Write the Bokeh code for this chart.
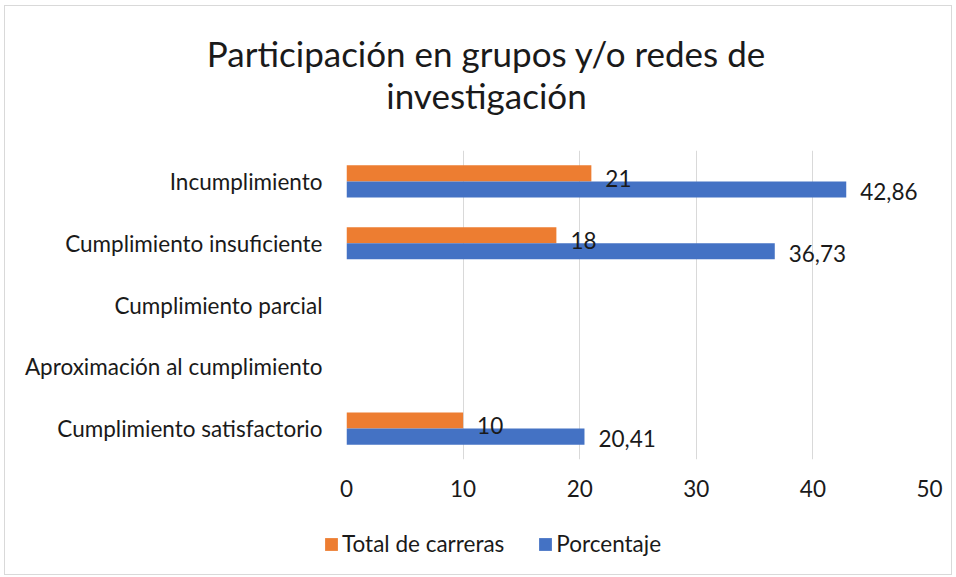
from bokeh.plotting import figure
from bokeh.layouts import column
from bokeh.models import (ColumnDataSource, FactorRange, Range1d, LabelSet, Label,
                          Legend, LegendItem)
from bokeh.transform import dodge
from bokeh.core.properties import value
from bokeh.embed import file_html
from bokeh.resources import INLINE

# ---- data ----
categories = ["Incumplimiento", "Cumplimiento insuficiente", "Cumplimiento parcial",
              "Aproximación al cumplimiento", "Cumplimiento satisfactorio"]
total_carreras = [21, 18, 0, 0, 10]
porcentaje = [42.86, 36.73, 0, 0, 20.41]
porcentaje_labels = ["42,86", "36,73", "", "", "20,41"]
x_ticks = [0, 10, 20, 30, 40, 50]
title_lines = ["Participación en grupos y/o redes de", "investigación"]
series_names = ["Total de carreras", "Porcentaje"]

ORANGE = "#ED7D31"
BLUE = "#4472C4"
FONT = "Lato"
TXT = "#1a1a1a"
FS = "22.5px"

W = 946
H_TITLE, H_MAIN, H_LEG = 144, 359, 65

src = ColumnDataSource(dict(
    cat=categories,
    total=total_carreras,
    pct=porcentaje,
    total_lbl=[str(v) if v else "" for v in total_carreras],
    pct_lbl=porcentaje_labels,
))


def blank_fig(height, y_range=None, x_range=None):
    f = figure(width=W, height=height, output_backend="svg", toolbar_location=None,
               x_range=x_range if x_range is not None else Range1d(0, 1),
               y_range=y_range if y_range is not None else Range1d(0, 1),
               x_axis_type=None, y_axis_type=None, min_border=0,
               frame_align=False)
    f.outline_line_color = None
    f.grid.visible = False
    f.background_fill_color = "white"
    f.border_fill_color = "white"
    return f


# ---- title strip ----
pt = blank_fig(H_TITLE)
for i, line in enumerate(title_lines):
    pt.add_layout(Label(x=481, y=98 - 42 * i, x_units="screen", y_units="screen",
                        text=line, text_font=FONT, text_font_size="35px",
                        text_color=TXT, text_align="center", text_baseline="middle"))

# ---- main chart ----
p = figure(width=W, height=H_MAIN, output_backend="svg", toolbar_location=None,
           y_range=FactorRange(factors=categories[::-1], range_padding=0),
           x_range=Range1d(0, 50),
           min_border_left=341, min_border_right=22, min_border_top=0,
           min_border_bottom=50, frame_align=False)
p.outline_line_color = None
p.background_fill_color = "white"
p.border_fill_color = "white"

bar_h = 0.26
r_tot = p.hbar(y=dodge("cat", bar_h / 2, range=p.y_range), right="total", left=0,
               height=bar_h, source=src, color=ORANGE, line_color=None)
r_pct = p.hbar(y=dodge("cat", -bar_h / 2, range=p.y_range), right="pct", left=0,
               height=bar_h, source=src, color=BLUE, line_color=None)

p.add_layout(LabelSet(x="total", y=dodge("cat", bar_h / 2 - 0.08, range=p.y_range),
                      text="total_lbl", source=src, x_offset=14,
                      text_font=value(FONT), text_font_size=FS,
                      text_color=TXT, text_baseline="middle"))
p.add_layout(LabelSet(x="pct", y=dodge("cat", -bar_h / 2 - 0.03, range=p.y_range),
                      text="pct_lbl", source=src, x_offset=14,
                      text_font=value(FONT), text_font_size=FS,
                      text_color=TXT, text_baseline="middle"))

p.xaxis.ticker = x_ticks
p.xaxis.axis_line_color = None
p.xaxis.major_tick_line_color = None
p.xaxis.minor_tick_line_color = None
p.xaxis.major_label_text_font = FONT
p.xaxis.major_label_text_font_size = FS
p.xaxis.major_label_text_color = TXT
p.xaxis.major_label_standoff = 14

p.yaxis.axis_line_color = None
p.yaxis.major_tick_line_color = None
p.yaxis.minor_tick_line_color = None
p.yaxis.major_label_text_font = FONT
p.yaxis.major_label_text_font_size = FS
p.yaxis.major_label_text_color = TXT
p.yaxis.major_label_standoff = 18

p.xgrid.grid_line_color = "#d9d9d9"
p.xgrid.grid_line_width = 1
p.ygrid.grid_line_color = None

# ---- legend strip: same series glyphs, with an x-range that keeps the bars out of view ----
pl = blank_fig(H_LEG, y_range=FactorRange(factors=categories[::-1]),
               x_range=Range1d(-2, -1))
l_tot = pl.hbar(y="cat", right="total", left=0, height=bar_h, source=src,
                color=ORANGE, line_color=None)
l_pct = pl.hbar(y="cat", right="pct", left=0, height=bar_h, source=src,
                color=BLUE, line_color=None)
legend = Legend(items=[LegendItem(label=series_names[0], renderers=[l_tot]),
                       LegendItem(label=series_names[1], renderers=[l_pct])],
                orientation="horizontal", location=(318, 17),
                label_text_font=FONT, label_text_font_size=FS,
                label_text_color=TXT, glyph_width=16, glyph_height=16,
                spacing=33, label_standoff=3, border_line_color=None,
                background_fill_alpha=0, padding=6, margin=0)
pl.add_layout(legend)

layout = column(pt, p, pl, spacing=0)
layout.styles = {"border": "1px solid #d9d9d9", "margin-left": "4px", "margin-top": "5px"}

open("out.html", "w").write(file_html(layout, INLINE))
